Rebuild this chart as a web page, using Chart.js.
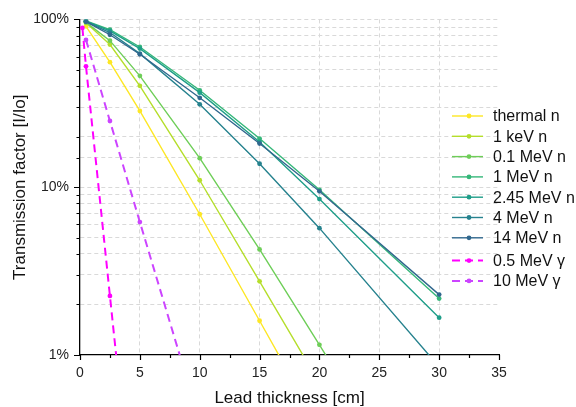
<!DOCTYPE html>
<html>
<head>
<meta charset="utf-8">
<script src="https://cdn.jsdelivr.net/npm/chart.js@4.4.1/dist/chart.umd.min.js"></script>
<style>
  html, body { margin: 0; padding: 0; background: #fff; }
  #wrap { width: 576px; height: 407px; }
</style>
</head>
<body>
<div id="wrap"><canvas id="chart" width="576" height="407"></canvas></div>
<script>
// lead thickness [cm] where each series was sampled
const neutronThickness = [0.5, 2.5, 5, 10, 15, 20, 30];
const gammaLowThickness = [0.2, 0.5, 2.5, 5];
const gammaHighThickness = [0.5, 2.5, 5, 10];

// transmission factor I/Io in %
const thermalN = [91, 55.6, 28.5, 6.9, 1.6, 0.37, 0.02];
const keV1N = [95.5, 70.8, 40.2, 11.0, 2.75, 0.68, 0.04];
const mev01N = [96, 74.7, 46.1, 14.9, 4.26, 1.15, 0.08];
const mev1N = [97.8, 87, 68.5, 37.8, 19.5, 9.65, 2.17];
const mev245N = [97.5, 85.5, 67, 36.6, 18.6, 8.5, 1.67];
const mev4N = [97, 83.5, 62.5, 31.2, 13.8, 5.7, 0.85];
const mev14N = [97, 81, 62, 34.1, 18.2, 9.45, 2.29];
const mev05G = [89, 52.5, 2.25, 0.045];
const mev10G = [75.5, 24.8, 6.2, 0.4];

const xTicksMajor = [0, 5, 10, 15, 20, 25, 30, 35];
const yTickLabels = { 1: "1%", 10: "10%", 100: "100%" };

const seriesNames = ["thermal n", "1 keV n", "0.1 MeV n", "1 MeV n", "2.45 MeV n", "4 MeV n", "14 MeV n", "0.5 MeV γ", "10 MeV γ"];
const seriesColors = ["#fde725", "#b5de2b", "#6ece58", "#35b779", "#1f9e89", "#26828e", "#31688e", "#ff00ff", "#cc44ff"];
const seriesValues = [thermalN, keV1N, mev01N, mev1N, mev245N, mev4N, mev14N, mev05G, mev10G];
const seriesX = [neutronThickness, neutronThickness, neutronThickness, neutronThickness,
  neutronThickness, neutronThickness, neutronThickness, gammaLowThickness, gammaHighThickness];

const FONT = "'Liberation Sans', Arial, sans-serif";

const datasets = seriesNames.map((name, i) => {
  const gamma = i >= 7;
  return {
    label: name,
    data: seriesValues[i].map((v, k) => ({ x: seriesX[i][k], y: v })),
    borderColor: seriesColors[i],
    backgroundColor: seriesColors[i],
    borderWidth: gamma ? 2 : 1.4,
    borderDash: gamma ? [8, 5] : [],
    pointRadius: 2.4,
    pointHoverRadius: 2.4,
    pointBorderWidth: 0,
    tension: 0,
    order: -i,
  };
});

// small inside legend, right side of the plot
const insideLegend = {
  id: "insideLegend",
  afterDraw(chart) {
    const ctx = chart.ctx;
    ctx.save();
    ctx.font = "16px " + FONT;
    ctx.textBaseline = "middle";
    ctx.fillStyle = "#111";
    chart.data.datasets.forEach((ds, i) => {
      const y = 116 + i * 20.3 + (i >= 7 ? 2.5 : 0);
      ctx.strokeStyle = ds.borderColor;
      ctx.lineWidth = ds.borderWidth;
      ctx.setLineDash(ds.borderDash);
      ctx.beginPath();
      ctx.moveTo(452, y);
      ctx.lineTo(483, y);
      ctx.stroke();
      ctx.setLineDash([]);
      ctx.fillStyle = ds.borderColor;
      ctx.beginPath();
      ctx.arc(469, y, 2.4, 0, Math.PI * 2);
      ctx.fill();
      ctx.fillStyle = "#111";
      ctx.fillText(ds.label, 493, y + 1);
    });
    ctx.restore();
  }
};

// tick marks: long on labelled values, short on the rest
const tickMarks = {
  id: "tickMarks",
  afterDraw(chart) {
    const ctx = chart.ctx;
    const xs = chart.scales.x, ys = chart.scales.y;
    const area = chart.chartArea;
    ctx.save();
    ctx.strokeStyle = "#000";
    ctx.lineWidth = 1.2;
    ctx.beginPath();
    xs.ticks.forEach(t => {
      const px = Math.round(xs.getPixelForValue(t.value)) + 0.5;
      const len = xTicksMajor.includes(t.value) ? 5 : 3;
      ctx.moveTo(px, area.bottom);
      ctx.lineTo(px, area.bottom + len);
    });
    ys.ticks.forEach(t => {
      const py = Math.round(ys.getPixelForValue(t.value)) + 0.5;
      const len = yTickLabels[t.value] ? 6 : 3.5;
      ctx.moveTo(area.left, py);
      ctx.lineTo(area.left - len, py);
    });
    ctx.stroke();
    ctx.restore();
  }
};

new Chart(document.getElementById("chart"), {
  type: "line",
  data: { datasets },
  options: {
    responsive: false,
    animation: false,
    devicePixelRatio: 1,
    layout: { padding: { left: 0, top: 18, right: 77, bottom: 0 } },
    plugins: {
      legend: { display: false },
      tooltip: { enabled: false },
    },
    scales: {
      x: {
        type: "linear",
        min: 0,
        max: 35,
        afterFit: s => { s.height = 52; },
        ticks: {
          stepSize: 2.5,
          autoSkip: false,
          maxRotation: 0,
          padding: 10,
          color: "#222",
          font: { family: FONT, size: 14 },
          callback: v => (xTicksMajor.includes(v) ? String(v) : ""),
        },
        grid: {
          drawTicks: false,
          lineWidth: 1,
          color: c => {
            const v = c.tick ? c.tick.value : null;
            return (v % 5 === 0 && v > 0 && v < 35) ? "#d9d9d9" : "rgba(0,0,0,0)";
          },
        },
        border: { display: true, color: "#000", width: 1.3, dash: [4, 3] },
        title: {
          display: true,
          text: "Lead thickness [cm]",
          color: "#111",
          font: { family: FONT, size: 17 },
          padding: { top: 0, bottom: -2 },
        },
      },
      y: {
        type: "logarithmic",
        min: 1,
        max: 100,
        afterFit: s => { s.width = 80; },
        ticks: {
          autoSkip: false,
          padding: 11,
          color: "#222",
          font: { family: FONT, size: 14 },
          callback: v => yTickLabels[v] || "",
        },
        grid: {
          drawTicks: false,
          lineWidth: 1,
          color: c => {
            const v = c.tick ? c.tick.value : null;
            return v > 1 ? "#d9d9d9" : "rgba(0,0,0,0)";
          },
        },
        border: { display: true, color: "#000", width: 1.3, dash: [4, 3] },
        title: {
          display: true,
          text: "Transmission factor [I/Io]",
          color: "#111",
          font: { family: FONT, size: 17 },
          padding: { top: 10, bottom: 0 },
        },
      },
    },
  },
  plugins: [insideLegend, tickMarks],
});
</script>
</body>
</html>
